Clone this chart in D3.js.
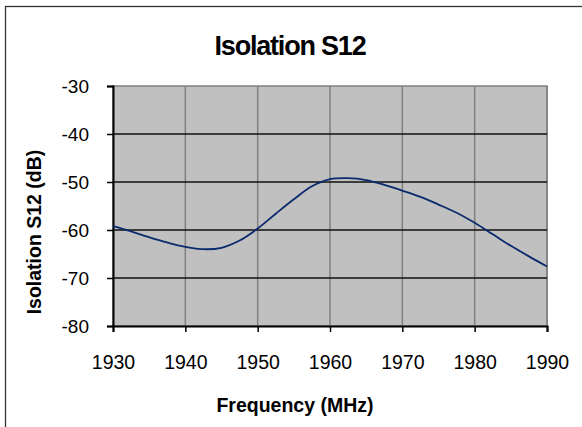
<!DOCTYPE html>
<html>
<head>
<meta charset="utf-8">
<script src="https://cdn.jsdelivr.net/npm/d3@7"></script>
<style>
  body { margin: 0; background: #fff; }
  svg { display: block; font-family: "Liberation Sans", Arial, Helvetica, sans-serif; }
</style>
</head>
<body>
<svg id="chart" width="582" height="427"></svg>
<script>
// values
const freqs = [1930, 1932.5, 1935, 1937.5, 1940, 1942.5, 1945, 1947.5, 1950, 1952.5, 1955, 1957.5, 1960, 1962.5, 1965, 1967.5, 1970, 1972.5, 1975, 1977.5, 1980, 1982.5, 1985, 1987.5, 1990];
const s12 = [-59.2, -60.3, -61.5, -62.6, -63.5, -64.0, -63.7, -62.2, -59.7, -56.6, -53.6, -50.9, -49.4, -49.2, -49.6, -50.6, -51.8, -53.1, -54.7, -56.4, -58.5, -60.9, -63.3, -65.5, -67.6];
const xTicks = [1930, 1940, 1950, 1960, 1970, 1980, 1990];
const yTicks = [-30, -40, -50, -60, -70, -80];

const svg = d3.select("#chart");

// chart border (runs off the right and bottom edges)
svg.append("rect")
  .attr("x", 5.5).attr("y", 6.5)
  .attr("width", 600).attr("height", 500)
  .attr("fill", "#fff")
  .attr("stroke", "#333")
  .attr("stroke-width", 1.3);

const plotL = 113, plotR = 547, plotT = 86, plotB = 326;

const x = d3.scaleLinear().domain([1930, 1990]).range([plotL, plotR]);
const y = d3.scaleLinear().domain([-80, -30]).range([plotB, plotT]);

// plot area
svg.append("rect")
  .attr("x", plotL).attr("y", plotT)
  .attr("width", plotR - plotL).attr("height", plotB - plotT)
  .attr("fill", "#c0c0c0")
  .attr("stroke", "#808080")
  .attr("stroke-width", 1.5);

// vertical gridlines
svg.append("g")
  .selectAll("line")
  .data(xTicks.slice(1))
  .join("line")
  .attr("x1", d => x(d)).attr("x2", d => x(d))
  .attr("y1", plotT).attr("y2", plotB)
  .attr("stroke", "#808080")
  .attr("stroke-width", 1.5);

// horizontal gridlines
svg.append("g")
  .selectAll("line")
  .data(yTicks.slice(1, -1))
  .join("line")
  .attr("x1", plotL).attr("x2", plotR)
  .attr("y1", d => y(d)).attr("y2", d => y(d))
  .attr("stroke", "#111")
  .attr("stroke-width", 1.5);

// axes
const xAxis = svg.append("g")
  .attr("transform", `translate(0,${plotB})`)
  .call(d3.axisBottom(x).tickValues(xTicks).tickFormat(d => String(d)).tickSize(6).tickPadding(23));
const yAxis = svg.append("g")
  .attr("transform", `translate(${plotL},0)`)
  .call(d3.axisLeft(y).tickValues(yTicks).tickFormat(d => String(d)).tickSize(6).tickPadding(18));

[xAxis, yAxis].forEach(a => {
  a.select(".domain").attr("stroke", "#000").attr("stroke-width", 2);
  a.selectAll(".tick line").attr("stroke", "#000").attr("stroke-width", 1.5);
  a.selectAll("text")
    .attr("fill", "#000")
    .attr("font-family", "'Liberation Sans', Arial, sans-serif");
});
xAxis.selectAll("text").attr("font-size", 19.5);
yAxis.selectAll("text").attr("font-size", 19);

// curve
const line = d3.line()
  .x((d, i) => x(freqs[i]))
  .y(d => y(d))
  .curve(d3.curveCatmullRom.alpha(0.5));

svg.append("path")
  .datum(s12)
  .attr("d", line)
  .attr("fill", "none")
  .attr("stroke", "#0a2a6e")
  .attr("stroke-width", 1.8);

// titles
svg.append("text")
  .attr("x", 290).attr("y", 55)
  .attr("text-anchor", "middle")
  .attr("font-size", 27)
  .attr("font-weight", "bold")
  .attr("letter-spacing", -1.2)
  .text("Isolation S12");

svg.append("text")
  .attr("x", 295).attr("y", 412)
  .attr("text-anchor", "middle")
  .attr("font-size", 19.5)
  .attr("font-weight", "bold")
  .text("Frequency (MHz)");

svg.append("text")
  .attr("transform", "translate(41,232) rotate(-90)")
  .attr("text-anchor", "middle")
  .attr("font-size", 19.5)
  .attr("font-weight", "bold")
  .text("Isolation S12 (dB)");
</script>
</body>
</html>
